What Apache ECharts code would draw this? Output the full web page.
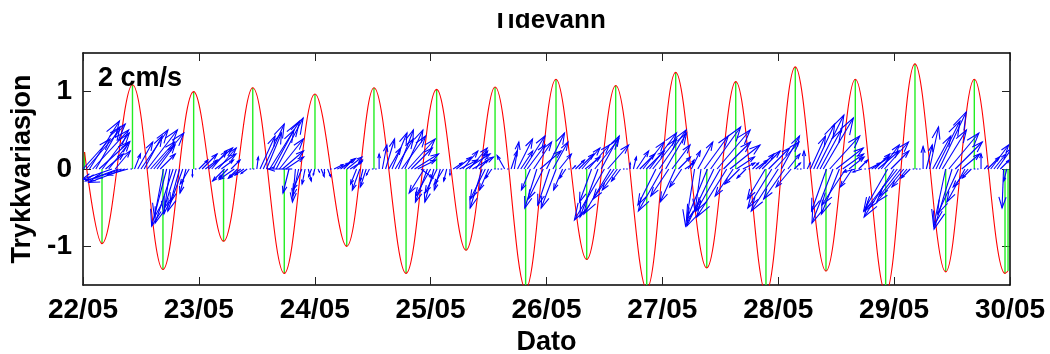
<!DOCTYPE html>
<html><head><meta charset="utf-8">
<script src="https://cdn.jsdelivr.net/npm/echarts@6/dist/echarts.min.js"></script>
<style>html,body{margin:0;padding:0;background:#fff}#c{width:1050px;height:354px}</style>
</head><body><div id="c"></div>
<script>
const titleText = 'Tidevann';
const yName = 'Trykkvariasjon';
const xName = 'Dato';
const scaleText = '2 cm/s';
const dayTicks = [22, 23, 24, 25, 26, 27, 28, 29, 30];
const levelTicks = [-1, 0, 1];

// tide: turning points (day of May) and pressure variation
const tideDay = [22.013, 22.164, 22.427, 22.690, 22.955, 23.213, 23.465, 23.737, 24.002, 24.276, 24.511, 24.788, 25.052, 25.305, 25.556, 25.820, 26.082, 26.347, 26.597, 26.865, 27.115, 27.383, 27.633, 27.894, 28.147, 28.412, 28.665, 28.927, 29.180, 29.445, 29.692, 29.957, 29.983];
const tideLevel = [0.22, -0.965, 1.09, -1.30, 1.00, -0.935, 1.05, -1.35, 0.97, -1.00, 1.05, -1.35, 1.03, -1.05, 1.06, -1.55, 1.16, -1.17, 1.08, -1.55, 1.25, -1.28, 1.13, -1.60, 1.32, -1.32, 1.16, -1.60, 1.36, -1.33, 1.16, -1.35, -1.32];

// current vectors every 40 min from 22/05 00:00 (cm/s), one line per day
const currentStartDay = 22;
const currentStepDay = 1 / 36;
const currentE = [
  0.9,1.3,1.0,1.2,0.8,1.0,0.9,0.6,0.7,-1.0,0.5,-1.1,-0.9,-1.2,-0.7,0,0.2,0.5,0.9,0.6,1.0,0.8,1.0,0.6,0.5,-0.3,-0.5,-0.2,-0.6,-0.4,-0.3,-0.5,-0.2,-0.3,0,0,
  0.3,0.5,0.4,0.8,0.5,0.7,0.6,0.4,-0.4,-0.3,0.3,-0.5,-0.3,-0.4,-0.3,-0.2,0,0,0.05,0.5,0.7,0.5,1.0,0.7,0.9,0.8,0.7,0.6,-0.2,-0.8,-0.1,-0.2,-0.3,-0.1,0.1,-0.1,
  -0.05,0.05,0.1,0,0.1,0,0.3,0.4,0.5,0.3,0.5,0.4,0.3,-0.2,-0.25,-0.1,-0.2,-0.1,0,0,0,0.15,0.3,0.4,0.5,0.6,0.5,0.8,0.6,0.9,0.7,0.8,0.6,0.4,-0.5,-0.4,
  -0.5,-0.3,-0.4,-0.2,-0.3,-0.1,0,0.3,0.5,0.6,0.5,0.8,0.6,0.7,0.4,0.3,-0.4,-0.5,-0.3,-0.2,0,0,0,-0.25,0,0.2,0.15,0.5,0.4,0.7,0.6,-0.3,0.6,-0.4,0.7,-0.5,
  0.6,-0.4,0.5,-0.5,0.4,-0.3,-0.2,0,0.1,0.3,0.5,0.6,0.5,0.7,-0.4,0.8,-0.6,0.6,-1.0,0.7,-0.9,-0.7,-0.5,-0.3,0,0,0,0.1,0.4,0.5,0.7,0.6,0.9,0.8,-0.6,0.9,
  -0.8,0.7,-0.6,0.6,-0.5,0.4,-0.4,0.3,0.2,0.3,-0.3,0.5,-0.2,0.8,-0.7,1.0,-0.9,1.1,-0.8,0.9,-1.0,1.0,-0.6,0.6,-0.5,0.4,-0.3,0,0.2,0.4,0.5,0.6,-0.6,0.7,-0.8,0.8,
  -0.9,0.6,-0.7,0.4,-0.5,0.2,0,0,0,0.1,0.5,0.7,0.9,0.7,1.0,-0.5,1.0,-0.7,0.9,-0.6,0.7,-0.8,0.5,-0.4,-0.4,0.3,-0.3,0,0.4,0.6,0.5,0.7,0.6,0.8,-0.8,0.6,
  -1.0,-1.1,-0.7,-0.9,-0.5,-0.3,0,0,0,0,0.2,0.3,0.6,0.8,0.9,0.8,-0.4,1.0,-0.6,0.9,-0.7,0.6,-0.6,-0.5,-0.3,0,0,0,0.1,0.4,0.6,0.4,0.5,0.3,-0.05,-0.1
];
const currentN = [
  1.0,1.5,1.6,1.3,1.4,0.9,1.2,0.5,0.9,-0.35,0.6,-0.4,-0.3,-0.45,-0.2,0,0.5,0.9,1.3,1.1,1.3,0.9,1.2,0.8,0.5,-1.6,-1.9,-1.5,-1.8,-1.3,-1.1,-1.4,-0.8,-0.5,-0.25,0,
  0.3,0.5,0.3,0.7,0.6,0.5,0.7,0.3,-0.4,-0.3,0.3,-0.35,-0.3,-0.3,-0.2,-0.15,0,0,0.4,1.1,1.5,1.2,1.6,1.3,1.7,1.0,0.6,0.4,-0.8,0.0,-1.1,-0.9,-0.7,-0.5,-0.4,-0.25,
  -0.2,-0.1,-0.25,-0.15,-0.25,0,0.15,0.2,0.35,0.3,0.4,0.25,0.3,-0.5,-0.7,-0.4,-0.6,-0.2,0,0,0.5,0.8,1.0,0.7,1.2,1.0,1.3,1.1,1.3,1.0,0.7,0.5,0.3,-0.3,-0.8,-1.1,
  -0.9,-1.1,-0.8,-0.7,-0.5,-0.4,-0.2,0.2,0.4,0.3,0.6,0.5,0.7,0.4,0.6,0.3,-1.3,-1.0,-0.7,-0.3,0,0,0,0.45,0,0.6,0.9,1.0,0.6,1.1,0.8,-0.7,0.9,-1.3,0.6,-1.0,
  1.2,-1.2,0.9,-1.3,0.5,-0.7,-0.3,0,0.1,0.3,0.5,0.7,0.4,0.8,-1.1,1.0,-1.6,1.1,-1.7,0.8,-1.5,-1.0,-0.7,-0.4,0,0,0.2,0.4,0.6,0.5,0.9,0.6,1.2,1.0,-1.2,1.3,
  -1.4,1.2,-0.9,0.8,-1.1,0.4,-0.6,0.2,0.3,0.6,-1.9,0.9,-1.4,1.1,-1.7,1.4,-1.9,1.3,-1.4,0.9,-1.6,0.8,-0.9,0.4,-0.5,0.2,-0.3,0,0.2,0.3,0.5,0.6,-1.0,0.7,-1.3,0.9,
  -1.4,1.1,-1.0,0.5,-0.6,0.2,0,0,0.6,0.2,1.1,1.5,1.8,1.3,1.7,-1.4,1.1,-1.8,0.7,-1.5,0.5,-1.2,0.4,-0.6,-0.1,0.3,-0.1,0,0.2,0.4,0.5,0.6,0.8,0.9,-1.4,0.6,
  -1.6,-1.4,-0.9,-1.1,-0.6,-0.3,0,0,0,0.75,0.8,1.4,1.1,1.6,1.9,1.3,-1.9,1.2,-2.0,0.9,-1.5,0.5,-1.1,-0.6,-0.3,0,0,0.5,0.1,0.4,0.8,0.5,0.7,0.3,-1.3,-0.4
];
// arrow scale: data units per cm/s
const arrowDayPerCm = 0.2589;
const arrowLevelPerCm = 0.388;

const FONT = '"Liberation Sans", Arial, Helvetica, sans-serif';
const BLACK = '#000';

const tideData = tideDay.map((d, i) => [d, tideLevel[i]]);
const arrowData = currentE.map((u, i) => [currentStartDay + i * currentStepDay, u, currentN[i]]);

function pad(v) { return (v < 10 ? '0' : '') + v; }

const chart = echarts.init(document.getElementById('c'), null, {renderer: 'canvas'});

const axisCommon = {
  type: 'value', min: 22, max: 30, interval: 1,
  axisLine: {show: true, onZero: false, lineStyle: {color: BLACK, width: 1.5}},
  axisTick: {show: true, inside: true, length: 8, lineStyle: {color: '#222', width: 1}},
  splitLine: {show: false}
};
const yCommon = {
  type: 'value', min: -1.5, max: 1.5,
  axisLine: {show: true, onZero: false, lineStyle: {color: BLACK, width: 1.5}},
  axisTick: {show: true, inside: true, length: 8, customValues: levelTicks, lineStyle: {color: '#222', width: 1}},
  splitLine: {show: false}
};

chart.setOption({
  backgroundColor: '#fff',
  animation: false,
  grid: {left: 83, right: 40, top: 53, bottom: 69, containLabel: false, outerBoundsMode: 'none'},
  xAxis: [
    Object.assign({}, axisCommon, {
      position: 'bottom',
      axisLabel: {show: true, margin: 11, color: BLACK, fontSize: 28, fontWeight: 'bold', fontFamily: FONT,
        customValues: dayTicks, formatter: v => pad(v) + '/05'},
      name: xName, nameLocation: 'middle', nameGap: 39,
      nameTextStyle: {color: BLACK, fontSize: 27, fontWeight: 'bold', fontFamily: FONT}
    }),
    Object.assign({}, axisCommon, {position: 'top', axisLabel: {show: false}})
  ],
  yAxis: [
    Object.assign({}, yCommon, {
      position: 'left',
      axisLabel: {show: true, margin: 11, color: BLACK, fontSize: 28, fontWeight: 'bold', fontFamily: FONT,
        customValues: levelTicks, formatter: v => String(v)},
      name: yName, nameLocation: 'middle', nameGap: 43,
      nameTextStyle: {color: BLACK, fontSize: 27, fontWeight: 'bold', fontFamily: FONT}
    }),
    Object.assign({}, yCommon, {position: 'right', axisLabel: {show: false}})
  ],
  graphic: [
    {type: 'text', x: 549, y: 21, z: 10,
      style: {text: titleText, font: 'bold 26px ' + FONT, fill: BLACK, align: 'center', verticalAlign: 'middle'}},
    {type: 'rect', z: 20, shape: {x: 0, y: 0, width: 1050, height: 13}, style: {fill: '#fff'}},
    {type: 'text', x: 98, y: 79, z: 30,
      style: {text: scaleText, font: 'bold 27px ' + FONT, fill: BLACK, align: 'left', verticalAlign: 'middle'}}
  ],
  series: [
    {
      type: 'custom', name: 'turning', clip: true, z: 2,
      data: tideData,
      encode: {x: 0, y: 1},
      renderItem: function (params, api) {
        const p0 = api.coord([api.value(0), 0]);
        const p1 = api.coord([api.value(0), api.value(1)]);
        return {type: 'line', shape: {x1: p0[0], y1: p0[1], x2: p1[0], y2: p1[1]},
          style: {stroke: '#22ee22', lineWidth: 1.4}};
      }
    },
    {
      type: 'line', name: 'tide', data: tideData, showSymbol: false, smooth: 0.36, clip: true, z: 3,
      lineStyle: {color: '#ff0000', width: 1.1}
    },
    {
      type: 'custom', name: 'current', clip: true, z: 4,
      data: arrowData,
      encode: {x: 0, y: 2},
      renderItem: function (params, api) {
        const t = api.value(0), u = api.value(1), v = api.value(2);
        const p0 = api.coord([t, 0]);
        const p1 = api.coord([t + u * arrowDayPerCm, v * arrowLevelPerCm]);
        const dx = p1[0] - p0[0], dy = p1[1] - p0[1];
        const len = Math.hypot(dx, dy);
        const st = {stroke: '#0000ff', lineWidth: 1.1, fill: null};
        if (len < 1) {
          return {type: 'line', shape: {x1: p0[0] - 0.8, y1: p0[1], x2: p0[0] + 0.8, y2: p0[1]}, style: st};
        }
        const a = 0.28, b = 0.33;
        const h1 = [p1[0] - a * (dx + b * dy), p1[1] - a * (dy - b * dx)];
        const h2 = [p1[0] - a * (dx - b * dy), p1[1] - a * (dy + b * dx)];
        return {type: 'group', children: [
          {type: 'polyline', shape: {points: [p0, p1]}, style: st},
          {type: 'polyline', shape: {points: [h1, p1, h2]}, style: st}
        ]};
      }
    }
  ]
});
</script>
</body></html>
